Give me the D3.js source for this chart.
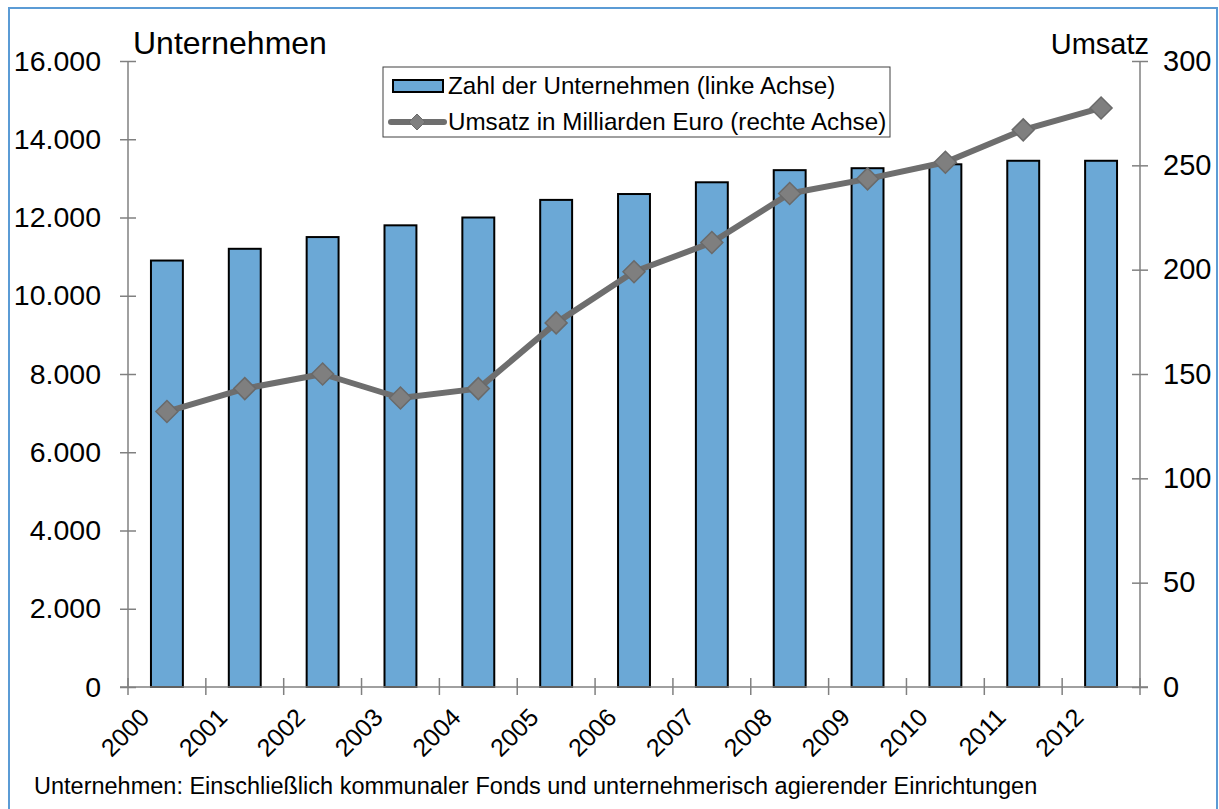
<!DOCTYPE html>
<html><head><meta charset="utf-8">
<script src="https://cdn.jsdelivr.net/npm/d3@7"></script>
<style>body{margin:0;background:#fff}svg{display:block;font-family:"Liberation Sans",Arial,sans-serif}</style>
</head><body><svg id="c" width="1219" height="809"></svg>
<script>
const years = ["2000","2001","2002","2003","2004","2005","2006","2007","2008","2009","2010","2011","2012"];
const companies = [10900,11200,11500,11800,12000,12450,12600,12900,13210,13260,13360,13450,13450];
const revenue = [132,143,150,138.5,143,174.5,199,213,236.5,243.5,251.5,267,277.5];
const leftTicks = [0,2000,4000,6000,8000,10000,12000,14000,16000];
const rightTicks = [0,50,100,150,200,250,300];
const footnote = "Unternehmen: Einschließlich kommunaler Fonds und unternehmerisch agierender Einrichtungen";

const svg = d3.select("#c");
const L = 128, R = 1140, T = 61, B = 687;
svg.append("rect").attr("x",9).attr("y",8).attr("width",1208).attr("height",820)
  .attr("fill","none").attr("stroke","#5B9BD5").attr("stroke-width",2);

const x = d3.scaleBand().domain(years).range([L,R]).paddingInner(0.59).paddingOuter(0.295);
const xb = d3.scaleBand().domain(years).range([L,R]);
const yL = d3.scaleLinear().domain([0,16000]).range([B,T]);
const yR = d3.scaleLinear().domain([0,300]).range([B,T]);
const fmt = d3.format(",.0f");
const de = v => fmt(v).replace(/,/g,".");

// bars
svg.append("g").selectAll("rect").data(years).join("rect")
  .attr("x",d=>x(d)).attr("width",x.bandwidth())
  .attr("y",(d,i)=>yL(companies[i])).attr("height",(d,i)=>B-yL(companies[i]))
  .attr("fill","#6BA8D6").attr("stroke","#000").attr("stroke-width",2);

const axisCol = "#808080";
// left axis
const gl = svg.append("g").attr("transform",`translate(${L},0)`)
  .call(d3.axisLeft(yL).tickValues(leftTicks).tickFormat(de).tickSize(8));
gl.select(".domain").attr("stroke",axisCol).attr("stroke-width",1.5).attr("d",`M0,${T}V${B}`);
gl.selectAll(".tick line").attr("stroke",axisCol).attr("stroke-width",1.5).attr("x1",8).attr("x2",-8);
gl.selectAll(".tick text").attr("x",-27).attr("font-size",28.5).attr("fill","#000").attr("font-family","Liberation Sans, Arial");

// right axis
const gr = svg.append("g").attr("transform",`translate(${R},0)`)
  .call(d3.axisRight(yR).tickValues(rightTicks).tickSize(8));
gr.select(".domain").attr("stroke",axisCol).attr("stroke-width",1.5).attr("d",`M0,${T}V${B}`);
gr.selectAll(".tick line").attr("stroke",axisCol).attr("stroke-width",1.5).attr("x1",-8).attr("x2",8);
gr.selectAll(".tick text").attr("x",23).attr("font-size",29).attr("fill","#000").attr("font-family","Liberation Sans, Arial");

// x axis
const gx = svg.append("g").attr("transform",`translate(0,${B})`)
  .call(d3.axisBottom(xb).tickSize(0).tickFormat(""));
gx.select(".domain").attr("stroke",axisCol).attr("stroke-width",1.5).attr("d",`M${L-8},0H${R+8}`);
const bounds = years.map(d=>xb(d)).concat([R]);
svg.append("g").selectAll("line").data(bounds).join("line")
  .attr("x1",d=>d).attr("x2",d=>d).attr("y1",B-9).attr("y2",B+8)
  .attr("stroke",axisCol).attr("stroke-width",1.5);
svg.append("g").selectAll("text").data(years).join("text")
  .attr("transform",d=>`translate(${xb(d)+xb.bandwidth()/2-16},${B+32}) rotate(-45)`)
  .attr("text-anchor","end").attr("font-size",25).text(d=>d);

// line
const line = d3.line().x((d,i)=>xb(years[i])+xb.bandwidth()/2).y(d=>yR(d));
svg.append("path").datum(revenue).attr("d",line).attr("fill","none")
  .attr("stroke","#6E6E6E").attr("stroke-width",6).attr("stroke-linejoin","round");
const diamond = "M0,-11L11,0L0,11L-11,0Z";
svg.append("g").selectAll("path").data(revenue).join("path")
  .attr("transform",(d,i)=>`translate(${xb(years[i])+xb.bandwidth()/2},${yR(d)})`)
  .attr("d",diamond).attr("fill","#7F7F7F").attr("stroke","#6A6A6A").attr("stroke-width",1.5);

// axis titles
svg.append("text").attr("x",133).attr("y",54).attr("font-size",32).text("Unternehmen");
svg.append("text").attr("x",1149).attr("y",54).attr("text-anchor","end").attr("font-size",29).text("Umsatz");

// legend
const lg = svg.append("g");
lg.append("rect").attr("x",383).attr("y",67).attr("width",507).attr("height",70)
  .attr("fill","#fff").attr("stroke","#404040").attr("stroke-width",1);
lg.append("rect").attr("x",393).attr("y",80).attr("width",50).attr("height",12)
  .attr("fill","#6BA8D6").attr("stroke","#000").attr("stroke-width",2);
lg.append("line").attr("x1",391).attr("x2",444).attr("y1",122).attr("y2",122)
  .attr("stroke","#6E6E6E").attr("stroke-width",6).attr("stroke-linecap","round");
lg.append("path").attr("transform","translate(417,122)").attr("d","M0,-8L8,0L0,8L-8,0Z")
  .attr("fill","#7F7F7F").attr("stroke","#6A6A6A");
lg.append("text").attr("x",448).attr("y",94).attr("font-size",24.2).text("Zahl der Unternehmen (linke Achse)");
lg.append("text").attr("x",448).attr("y",130).attr("font-size",24.2).text("Umsatz in Milliarden Euro (rechte Achse)");

// footnote
svg.append("text").attr("x",34).attr("y",794).attr("font-size",23.5).text(footnote);
</script></body></html>
